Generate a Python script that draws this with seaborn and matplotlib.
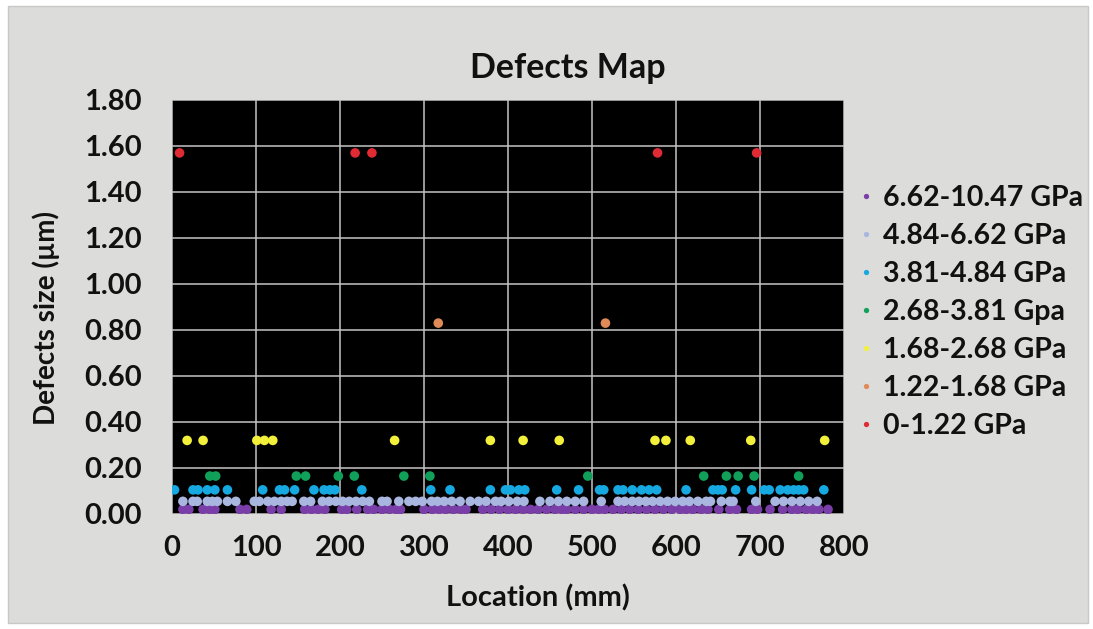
import matplotlib
matplotlib.use("Agg")
import matplotlib.pyplot as plt
import seaborn as sns
import pandas as pd
from matplotlib.patches import Rectangle

# ---- data ----
categories = ["6.62-10.47 GPa", "4.84-6.62 GPa", "3.81-4.84 GPa", "2.68-3.81 Gpa",
              "1.68-2.68 GPa", "1.22-1.68 GPa", "0-1.22 GPa"]
colors = ["#7a3ea8", "#a8b6e0", "#16a8e0", "#10a05a", "#f2f03a", "#e08a58", "#e02a34"]
sizes = [0.02, 0.055, 0.105, 0.165, 0.32, 0.83, 1.57]

loc_purple = [13, 20, 37, 45, 51, 81, 89, 118, 130, 158, 166, 174, 182, 202, 208, 220,
              233, 240, 250, 259, 267, 272, 300, 310, 318, 326, 335, 344, 350, 370, 380,
              390, 400, 409, 418, 427, 436, 446, 456, 464, 470, 480, 490, 500, 508, 515,
              525, 535, 545, 555, 565, 575, 585, 595, 605, 612, 620, 630, 638, 651, 664,
              672, 690, 697, 712, 727, 738, 745, 755, 763, 770, 781]
loc_lightblue = [13, 25, 30, 42, 48, 54, 66, 76, 98, 104, 114, 122, 130, 137, 143, 157,
                 165, 179, 187, 195, 203, 211, 219, 227, 235, 250, 256, 270, 282, 290,
                 298, 309, 316, 324, 333, 343, 355, 365, 374, 385, 392, 401, 411, 419,
                 438, 450, 460, 470, 480, 490, 511, 531, 539, 548, 556, 564, 572, 581,
                 590, 599, 608, 616, 626, 636, 641, 654, 664, 668, 695, 718, 728, 738,
                 748, 758, 768]
loc_cyan = [3, 25, 31, 42, 51, 66, 108, 128, 134, 146, 169, 181, 188, 194, 226, 308, 331,
            379, 397, 403, 413, 420, 458, 484, 509, 514, 531, 537, 548, 559, 568, 577,
            612, 644, 650, 655, 671, 690, 705, 711, 724, 733, 740, 746, 752, 776]
loc_green = [45, 52, 148, 159, 198, 217, 276, 307, 495, 633, 660, 674, 693, 746]
loc_yellow = [18, 37, 101, 110, 120, 265, 379, 418, 461, 575, 588, 617, 689, 777]
loc_orange = [317, 516]
loc_red = [9, 218, 238, 578, 696]

all_locs = [loc_purple, loc_lightblue, loc_cyan, loc_green, loc_yellow, loc_orange, loc_red]

x_ticks = [0, 100, 200, 300, 400, 500, 600, 700, 800]
y_ticks = [0.0, 0.2, 0.4, 0.6, 0.8, 1.0, 1.2, 1.4, 1.6, 1.8]

rows = []
for cat, size, locs in zip(categories, sizes, all_locs):
    for l in locs:
        rows.append({"Location": l, "Size": size, "Range": cat})
df = pd.DataFrame(rows)

# ---- figure ----
sns.set_theme(style="white")
plt.rcParams["font.family"] = ["Lato", "DejaVu Sans"]
W, H = 1093, 629
fig = plt.figure(figsize=(W / 100, H / 100), dpi=100, facecolor="white")
bg = Rectangle((8 / W, 6 / H), (1088 - 8) / W, (623 - 6) / H,
               transform=fig.transFigure, facecolor="#dcdcda",
               edgecolor="#c8c8c6", linewidth=1, zorder=-10)
fig.patches.append(bg)

ax = fig.add_axes([172 / W, 1 - 514 / H, (844 - 172) / W, (514 - 100) / H])
ax.set_zorder(2)
ax.set_facecolor("black")

sns.scatterplot(data=df, x="Location", y="Size", hue="Range", hue_order=categories,
                palette=colors, s=48, linewidth=0, ax=ax, zorder=3)

FS = 21
TXT = "#111111"
ax.set_xlim(0, 800)
ax.set_ylim(0, 1.8)
ax.set_xticks(x_ticks)
ax.set_yticks(y_ticks)
ax.set_xticklabels([str(t) for t in x_ticks], fontsize=FS, fontweight="bold", color=TXT)
ax.set_yticklabels([f"{t:.2f}" for t in y_ticks], fontsize=FS, fontweight="bold", color=TXT)
ax.tick_params(axis="x", length=0, pad=15)
ax.tick_params(axis="y", length=0, pad=22)
ax.grid(True, color="#c4c4c4", linewidth=1.1, zorder=0)
ax.set_axisbelow(True)
for sp in ax.spines.values():
    sp.set_visible(False)
ax.set_xlabel("")
ax.set_ylabel("")

fig.text(538 / W, 1 - 598 / H, "Location (mm)", fontsize=FS, fontweight="bold",
         color=TXT, ha="center", va="center")
fig.text(46 / W, 1 - 318 / H, "Defects size (µm)", fontsize=20, fontweight="bold",
         color=TXT, ha="center", va="center", rotation=90)
fig.text(568 / W, 1 - 68 / H, "Defects Map", fontsize=24.5, fontweight="bold",
         color=TXT, ha="center", va="center")

handles, labels = ax.get_legend_handles_labels()
if ax.legend_ is not None:
    ax.legend_.remove()
leg = fig.legend(handles, labels, loc="upper left", bbox_to_anchor=(843 / W, 1 - 174 / H),
                 frameon=False, fontsize=20.5, markerscale=0.55, handlelength=0.8,
                 handletextpad=0.2, labelspacing=0.42, borderaxespad=0)
for t in leg.get_texts():
    t.set_fontweight("bold")
    t.set_color(TXT)

fig.savefig("out.png", dpi=100, facecolor=fig.get_facecolor())
